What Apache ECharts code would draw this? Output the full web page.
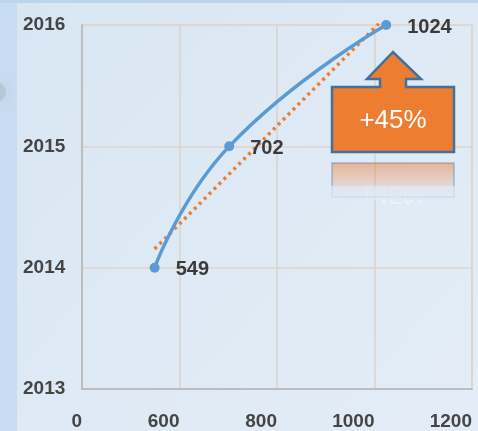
<!DOCTYPE html>
<html lang="en">
<head>
<meta charset="UTF-8">
<title>chart</title>
<style>
html, body { margin: 0; padding: 0; }
#main { width: 478px; height: 431px; }
</style>
</head>
<body>
<div id="main"></div>
<script src="https://cdn.jsdelivr.net/npm/echarts@6/dist/echarts.min.js"></script>
<script>
// data
var xValues = [549, 702, 1024];
var years = [2014, 2015, 2016];
var xTicks = [400, 600, 800, 1000, 1200];
var xTickLabels = ['0', '600', '800', '1000', '1200'];
var badgeText = '+45%';

// linear trend (least squares) through the points
function trend(xs, ys) {
    var n = xs.length, mx = 0, my = 0, sxx = 0, sxy = 0;
    for (var i = 0; i < n; i++) { mx += xs[i] / n; my += ys[i] / n; }
    for (var j = 0; j < n; j++) {
        sxx += (xs[j] - mx) * (xs[j] - mx);
        sxy += (xs[j] - mx) * (ys[j] - my);
    }
    var k = sxy / sxx;
    var x0 = Math.min.apply(null, xs), x1 = Math.max.apply(null, xs);
    return [[x0, my + k * (x0 - mx)], [x1, my + k * (x1 - mx)]];
}

var points = xValues.map(function (v, i) { return [v, years[i]]; });
var font = "'Liberation Sans', Arial, sans-serif";

var chart = echarts.init(document.getElementById('main'));
chart.setOption({
    backgroundColor: {
        type: 'linear', x: 0, y: 0, x2: 1, y2: 1,
        colorStops: [{ offset: 0, color: '#d8e6f3' }, { offset: 1, color: '#e4edf7' }]
    },
    animation: false,
    grid: {
        left: 82, right: 6, top: 25, bottom: 42,
        show: true, borderColor: '#dcd2c6', borderWidth: 1
    },
    xAxis: {
        type: 'value', min: 400, max: 1200, interval: 200,
        axisLine: { show: true, lineStyle: { color: '#bdbdbd', width: 2 } },
        axisTick: { show: false },
        splitLine: { show: true, lineStyle: { color: '#dad3c9', width: 1.5 } },
        axisLabel: {
            margin: 23, align: 'right', padding: [0, 0, 0, 0],
            fontFamily: font, fontWeight: 'bold', fontSize: 19, color: '#454545',
            formatter: function (v) { return xTickLabels[xTicks.indexOf(v)]; }
        }
    },
    yAxis: {
        type: 'value', min: 2013, max: 2016, interval: 1,
        axisLine: { show: true, lineStyle: { color: '#bdbdbd', width: 2 } },
        axisTick: { show: false },
        splitLine: { show: true, lineStyle: { color: '#e0d5c8', width: 1.5 } },
        axisLabel: {
            margin: 59, align: 'left',
            fontFamily: font, fontWeight: 'bold', fontSize: 19, color: '#454545',
            formatter: function (v) { return String(v); }
        }
    },
    series: [{
        type: 'line',
        data: trend(xValues, years),
        symbol: 'none',
        lineStyle: { color: '#ed7d31', width: 3.5, type: [3, 4], cap: 'butt' },
        silent: true,
        z: 2
    }, {
        type: 'line',
        data: points,
        smooth: 0.5,
        symbol: 'circle',
        symbolSize: 10,
        itemStyle: { color: '#5b9bd5' },
        lineStyle: { color: '#5b9bd5', width: 3.5 },
        label: {
            show: true, position: 'right', distance: 16,
            offset: [0, 2],
            fontFamily: font, fontWeight: 'bold', fontSize: 20, color: '#3a3a3a',
            formatter: function (p) { return p.value[0]; }
        },
        z: 3
    }],
    graphic: [
        { type: 'rect', shape: { x: 0, y: 0, width: 17, height: 431 }, style: { fill: '#c7dcf0' }, z: -1 },
        { type: 'rect', shape: { x: 0, y: 0, width: 478, height: 3 }, style: { fill: '#bcd4ec' }, z: -1 },
        {
            type: 'circle', shape: { cx: -4, cy: 92, r: 10 },
            style: { fill: 'rgba(140,150,160,0.25)', shadowBlur: 16, shadowColor: 'rgba(140,150,160,0.5)' }, z: -1
        },
        // reflection of the badge
        {
            type: 'rect', shape: { x: 332, y: 163, width: 122, height: 34 },
            style: {
                fill: {
                    type: 'linear', x: 0, y: 0, x2: 0, y2: 1,
                    colorStops: [{ offset: 0, color: 'rgba(237,125,49,0.5)' }, { offset: 1, color: 'rgba(237,125,49,0)' }]
                },
                stroke: 'rgba(65,113,156,0.3)', lineWidth: 2
            }, z: 10
        },
        {
            type: 'text', x: 393, y: 193, scaleY: -1,
            style: {
                text: badgeText, fill: 'rgba(255,255,255,0.4)',
                font: "26px 'Liberation Sans', sans-serif", align: 'center', verticalAlign: 'middle'
            }, z: 11
        },
        {
            type: 'rect', shape: { x: 330, y: 186, width: 126, height: 14 },
            style: { fill: 'rgba(222,234,246,0.75)' }, z: 12
        },
        // badge with arrow
        {
            type: 'polygon',
            shape: { points: [[332, 87], [380, 87], [380, 79], [367, 79], [393, 52], [421, 79], [406, 79], [406, 87], [454, 87], [454, 152], [332, 152]] },
            style: { fill: '#ed7d31', stroke: '#41719c', lineWidth: 2.5 }, z: 20
        },
        {
            type: 'text', x: 393, y: 121,
            style: {
                text: badgeText, fill: '#ffffff',
                font: "26px 'Liberation Sans', sans-serif", align: 'center', verticalAlign: 'middle'
            }, z: 21
        }
    ]
});
</script>
</body>
</html>
